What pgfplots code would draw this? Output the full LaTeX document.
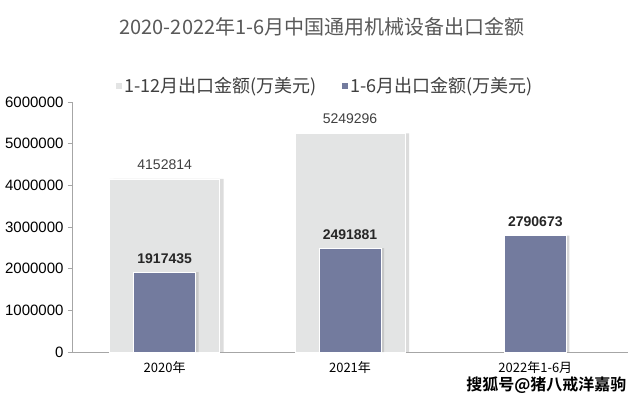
\documentclass[border=0pt]{standalone}
\usepackage{pgfplots}
\pgfplotsset{compat=1.18}
\usepackage{fontspec}
\setmainfont{Liberation Sans}
\newfontfamily\cjk{Noto Sans CJK SC}
\newfontfamily\cjkb{Noto Sans CJK SC Bold}
\definecolor{bargray}{HTML}{E3E4E4}
\definecolor{barblue}{HTML}{737B9E}
\definecolor{axgray}{HTML}{A6A6A6}
\definecolor{titlegray}{HTML}{595959}
\definecolor{lblgray}{HTML}{404040}
\begin{document}
\begin{tikzpicture}
\useasboundingbox[fill=white] (0,0) rectangle (640bp,400bp);
\node[text=titlegray,font=\cjk\fontsize{20bp}{23bp}\selectfont] at (322bp,373bp) {2020-2022年1-6月中国通用机械设备出口金额};
\begin{axis}[
  at={(72bp,48bp)}, anchor=south west,
  scale only axis, width=556bp, height=250bp,
  xmin=-0.5, xmax=2.5, ymin=0, ymax=6000000,
  axis x line*=bottom, axis y line*=left,
  axis line style={axgray, line width=0.8bp},
  xtick={0,1,2},
  xticklabels={2020年,2021年,2022年1-6月},
  x tick label style={font=\cjk\fontsize{13bp}{15bp}\selectfont, text=black, yshift=-2bp},
  major x tick style={draw=none},
  extra x ticks={0.5,1.5,2.5},
  extra x tick labels={},
  extra x tick style={major tick length=4bp, tick style={axgray, line width=0.8bp}, tick align=outside},
  ytick={0,1000000,2000000,3000000,4000000,5000000,6000000},
  scaled y ticks=false,
  yticklabel style={/pgf/number format/fixed, /pgf/number format/1000 sep={}, font=\fontsize{15bp}{17bp}\selectfont, text=black, xshift=-1bp},
  /pgf/number format/assume math mode=true,
  y tick style={axgray, line width=0.8bp},
  tick align=outside, major tick length=4bp,
  legend style={at={(0.455,1.064)}, anchor=center, draw=none, fill=none,
    font=\cjk\fontsize{18bp}{20bp}\selectfont, text=lblgray,
    legend columns=2, column sep=1bp, nodes={inner xsep=1.5bp},
    /tikz/every even column/.append style={column sep=24bp}},
  legend image code/.code={\fill[#1,draw=none] (0bp,-3bp) rectangle (6bp,3bp);},
  point meta=explicit symbolic,
  clip=false,
]
% shadows
\addplot[ybar, bar width=110bp, bar shift=4bp, fill=black!30, draw=none, opacity=0.45, forget plot]
  table[x=x,y=y] {
x y
0 4152814
1 5249296
};
\addplot[ybar, bar width=110bp, bar shift=0bp, fill=bargray, draw=white, line width=0.8bp,
  nodes near coords, every node near coord/.append style={font=\fontsize{14bp}{16bp}\selectfont, text=lblgray, yshift=6bp}]
  table[x=x,y=y,meta=l] {
x y l
0 4152814 4152814
1 5249296 5249296
};
\addlegendentry{1-12月出口金额(万美元)}
\addplot[ybar, bar width=62bp, bar shift=3bp, fill=black!35, draw=none, opacity=0.45, forget plot]
  table[x=x,y=y] {
x y
0 1917435
1 2491881
2 2790673
};
\addplot[ybar, bar width=62bp, bar shift=0bp, fill=barblue, draw=white, line width=0.8bp,
  nodes near coords, every node near coord/.append style={font=\bfseries\fontsize{14bp}{16bp}\selectfont, text=black!85, yshift=5bp}]
  table[x=x,y=y,meta=l] {
x y l
0 1917435 1917435
1 2491881 2491881
2 2790673 2790673
};
\addlegendentry{1-6月出口金额(万美元)}
\end{axis}
\node[font=\cjkb\fontsize{16bp}{18bp}\selectfont, text=black, anchor=east] at (630bp,15bp) {搜狐号@猪八戒洋嘉驹};
\end{tikzpicture}
\end{document}
